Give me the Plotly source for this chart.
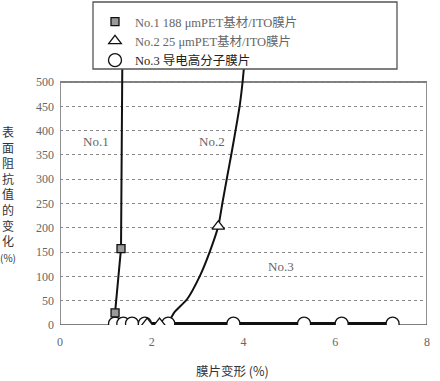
import plotly.graph_objects as go

# ---- data ----
no1_line_x = [1.18, 1.20, 1.33, 1.35, 1.36]
no1_line_y = [0, 25, 157, 500, 560]
no1_mark_x = [1.20, 1.33]
no1_mark_y = [25, 157]

no2_line_x = [2.15, 2.35, 2.50, 2.77, 3.05, 3.27, 3.45, 3.54, 3.64, 3.74, 3.83, 3.92, 3.98, 4.02]
no2_line_y = [0, 5, 27, 53, 101, 152, 203, 251, 303, 354, 402, 453, 500, 540]
no2_mark_x = [1.90, 2.17, 3.45]
no2_mark_y = [3, 3, 203]

no3_x = [1.20, 1.38, 1.57, 1.85, 2.36, 3.78, 5.32, 6.14, 7.25]
no3_y = [3, 3, 3, 3, 3, 3, 3, 3, 3]

names = ["No.1 188 μmPET基材/ITO膜片", "No.2 25 μmPET基材/ITO膜片", "No.3 导电高分子膜片"]
y_ticks = [0, 50, 100, 150, 200, 250, 300, 350, 400, 450, 500]
x_ticks = [0, 2, 4, 6, 8]

FONT = "Liberation Serif, Noto Sans CJK SC, serif"
INK = "#111111"

fig = go.Figure()

# lines
fig.add_trace(go.Scatter(x=no1_line_x, y=no1_line_y, mode="lines",
                         line=dict(color=INK, width=2), showlegend=False, hoverinfo="skip"))
fig.add_trace(go.Scatter(x=no2_line_x, y=no2_line_y, mode="lines",
                         line=dict(color=INK, width=2, shape="spline", smoothing=0.6),
                         showlegend=False, hoverinfo="skip"))
fig.add_trace(go.Scatter(x=no3_x, y=no3_y, mode="lines",
                         line=dict(color=INK, width=3.2), showlegend=False, hoverinfo="skip"))

# markers (circles first so the triangles/squares sit on top)
fig.add_trace(go.Scatter(x=no3_x, y=no3_y, mode="markers", legendrank=3,
                         name="<span style='color:#222'>" + names[2] + "</span>",
                         marker=dict(symbol="circle", size=13, color="white",
                                     line=dict(color=INK, width=1.3))))
fig.add_trace(go.Scatter(x=no1_mark_x, y=no1_mark_y, mode="markers", legendrank=1,
                         name="<span style='color:#666'>" + names[0] + "</span>",
                         marker=dict(symbol="square", size=8, color="#9a9a9a",
                                     line=dict(color=INK, width=1.3))))
fig.add_trace(go.Scatter(x=no2_mark_x, y=no2_mark_y, mode="markers", legendrank=2,
                         name="<span style='color:#666'>" + names[1] + "</span>",
                         marker=dict(symbol="triangle-up", size=11, color="white",
                                     line=dict(color=INK, width=1.3))))

ytop = 500 * 256 / 243

fig.update_layout(
    width=440, height=381,
    margin=dict(l=60, r=13, t=69, b=56, autoexpand=False),
    paper_bgcolor="white", plot_bgcolor="white",
    font=dict(family=FONT, size=12, color="#555"),
    showlegend=True,
    legend=dict(x=(95 - 60) / 367, xanchor="left", y=(325 - 7) / 256, yanchor="top",
                bgcolor="rgba(0,0,0,0)", borderwidth=0,
                font=dict(family=FONT, size=12.5, color="#555"),
                tracegroupgap=0, itemclick=False, traceorder="normal"),
    xaxis=dict(range=[0, 8], tickvals=x_ticks, ticktext=[str(v) for v in x_ticks],
               showgrid=False, zeroline=False, showline=False, ticks="",
               ticklabelstandoff=8, tickfont=dict(family=FONT, size=12, color="#666")),
    yaxis=dict(range=[0, ytop], tickvals=y_ticks, ticktext=[str(v) for v in y_ticks],
               showgrid=True, gridcolor="#888", griddash="dot", gridwidth=1.2,
               zeroline=False, showline=False, ticks="",
               ticklabelstandoff=5, tickfont=dict(family=FONT, size=12, color="#666")),
    shapes=[
        dict(type="rect", xref="x", yref="y", x0=0, x1=8, y0=0, y1=500,
             line=dict(color="#555", width=1.3), fillcolor="rgba(0,0,0,0)", layer="below"),
        dict(type="rect", xref="paper", yref="paper",
             x0=(93 - 60) / 367, x1=(397 - 60) / 367,
             y0=(325 - 69) / 256, y1=(325 - 2) / 256,
             line=dict(color="#555", width=1.3), fillcolor="white", layer="above"),
    ],
    annotations=[
        dict(text="No.1", x=0.79, y=378, xref="x", yref="y", showarrow=False,
             font=dict(family=FONT, size=13, color="#666")),
        dict(text="No.2", x=3.31, y=378, xref="x", yref="y", showarrow=False,
             font=dict(family=FONT, size=13, color="#666")),
        dict(text="No.3", x=4.82, y=121, xref="x", yref="y", showarrow=False,
             font=dict(family=FONT, size=13, color="#666")),
        dict(text="表<br>面<br>阻<br>抗<br>值<br>的<br>变<br>化<br><span style='font-size:10px'>(%)</span>",
             x=(7.5 - 60) / 367, y=(325 - 194) / 256, xref="paper", yref="paper",
             xanchor="center", yanchor="middle", showarrow=False,
             font=dict(family="Noto Sans CJK SC, " + FONT, size=12, color="#333")),
        dict(text="膜片变形 (%)", x=(232 - 60) / 367, y=(325 - 370) / 256,
             xref="paper", yref="paper", xanchor="center", yanchor="middle", showarrow=False,
             font=dict(family="Noto Sans CJK SC, " + FONT, size=12.5, color="#333")),
    ],
)

fig.write_html("out.html", config={"displayModeBar": False},
               post_script="document.body.style.margin='0';")
